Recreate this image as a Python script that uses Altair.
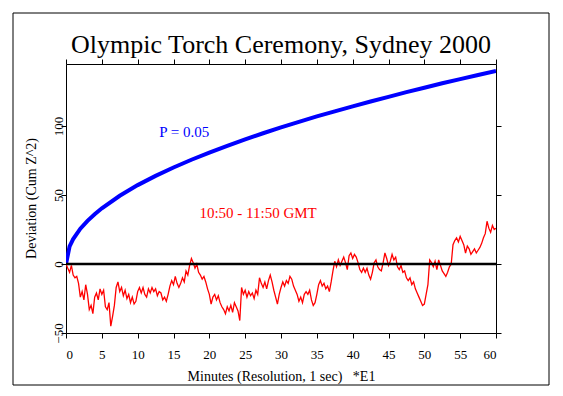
import altair as alt
import pandas as pd

# ---- data ----
title_text = "Olympic Torch Ceremony, Sydney 2000"
x_title = "Minutes (Resolution, 1 sec)\u00a0\u00a0\u00a0*E1"
y_title = "Deviation (Cum Z^2)"
x_ticks = [0, 5, 10, 15, 20, 25, 30, 35, 40, 45, 50, 55, 60]
y_ticks = [-50, 0, 50, 100]

# P = 0.05 envelope (blue)
env_minutes = [0, 0.5, 1, 2, 3, 4, 5, 7.5, 10, 12.5, 15, 17.5, 20, 22.5, 25, 27.5,
               30, 32.5, 35, 37.5, 40, 42.5, 45, 47.5, 50, 52.5, 55, 57.5, 60]
env_values = [0, 12.8, 18.1, 25.6, 31.3, 36.1, 40.4, 49.5, 57.2, 63.9, 70.0, 75.6,
              80.8, 85.7, 90.4, 94.8, 99.0, 103.0, 107.0, 110.7, 114.3, 117.8,
              121.2, 124.6, 127.8, 131.0, 134.0, 137.0, 140.0]

# cumulative deviation (red), one value every quarter minute
dev_step = 0.25
dev_values = [
    0, -3, -6, -1,       -8, -10, -9, -14,     -24, -20, -26, -15,   -22, -33, -30, -36,
    -24, -21, -26, -18,  -22, -19, -31, -33,   -28, -45, -38, -30,   -17, -13, -20, -17,
    -23, -19, -25, -22,  -28, -24, -29, -27,   -20, -17, -21, -17,   -22, -24, -18, -21,
    -17, -20, -18, -23,  -20, -21, -26, -24,   -27, -22, -16, -12,   -15, -9, -14, -17,
    -14, -10, -13, -5,   -8, -1, 4, 1,        -3, 0, -6, -8,        -11, -9, -13, -18,
    -22, -29, -24, -22,  -26, -23, -28, -31,   -33, -36, -31, -34,   -30, -35, -28, -31,
    -34, -41, -17, -22,  -19, -24, -20, -23,   -21, -25, -19, -22,   -10, -14, -17, -13,
    -18, -12, -8, -13,   -19, -24, -29, -22,   -17, -13, -16, -12,   -14, -9, -11, -16,
    -19, -22, -27, -24,  -28, -22, -20, -22,   -19, -26, -30, -28,   -22, -15, -12, -16,
    -14, -18, -16, -20,  -13, -5, 2, -2,       3, -1, 2, 5,          1, -4, 6, 8,
    4, 7, 5, 1,          -4, -6, -3, -6,       -3, -8, -11, -6,      1, 3, -2, -4,
    -5, 1, 8, 4,         -1, 2, 7, 3,          5, -2, -4, -1,        -6, -5, -10, -12,
    -10, -15, -13, -18,  -21, -24, -27, -30,   -29, -22, -15, 3,     1, -2, 2, -4,
    3, -1, -5, -7,       -9, -6, -2, 0,        14, 17, 19, 16,       20, 17, 14, 8,
    13, 11, 7, 9,        11, 8, 10, 12,        15, 19, 22, 31,       26, 23, 28, 25,
    26,
]
dev_minutes = [i * dev_step for i in range(len(dev_values))]

ann_text = ["P = 0.05", "10:50 - 11:50 GMT"]
ann_minute = [16.5, 26.8]
ann_value = [96, 37]
ann_color = ["#0000ff", "#ff0000"]

# ---- build tables ----
env_df = pd.DataFrame({"minute": env_minutes, "value": env_values})
dev_df = pd.DataFrame({"minute": dev_minutes, "value": dev_values})
ann_df = pd.DataFrame({"minute": ann_minute, "value": ann_value,
                       "label": ann_text, "color": ann_color})
zero_df = pd.DataFrame({"value": [0]})
frame_df = pd.DataFrame({"k": [0]})

FONT = "Liberation Serif"
xscale = alt.Scale(domain=[0, 60], nice=False, zero=False)
yscale = alt.Scale(domain=[-50, 145], nice=False, zero=False)

common_axis = dict(grid=False, domainColor="black", tickColor="black",
                   domainWidth=1, tickWidth=1, tickSize=5)

x_bottom = alt.Axis(values=x_ticks, orient="bottom", labelFont=FONT, labelFontSize=13,
                    labelColor="black", labelPadding=10, labelAngle=0,
                    title=x_title, titleFont=FONT, titleFontSize=14,
                    titleFontWeight="normal", titleColor="black",
                    titleBaseline="alphabetic", titleY=47, **common_axis)
y_left = alt.Axis(values=y_ticks, orient="left", labelFont=FONT, labelFontSize=13,
                  labelColor="black", labelAngle=270, labelAlign="center",
                  labelBaseline="middle", labelPadding=3,
                  title=y_title, titleFont=FONT, titleFontSize=14,
                  titleFontWeight="normal", titleColor="black", titleAngle=270,
                  titleAlign="center", titleBaseline="middle", titleX=-35, titleY=134,
                  **common_axis)
x_top = alt.Axis(values=x_ticks, orient="top", labels=False, title=None, **common_axis)
y_right = alt.Axis(values=y_ticks, orient="right", labels=False, title=None, **common_axis)

dev_line = alt.Chart(dev_df).mark_line(color="#ff0000", strokeWidth=1.3, clip=True).encode(
    x=alt.X("minute:Q", scale=xscale, axis=x_bottom),
    y=alt.Y("value:Q", scale=yscale, axis=y_left),
)

env_line = alt.Chart(env_df).mark_line(color="#0000ff", strokeWidth=4, clip=True).encode(
    x=alt.X("minute:Q", scale=xscale, axis=x_top),
    y=alt.Y("value:Q", scale=yscale, axis=y_right),
)

zero_rule = alt.Chart(zero_df).mark_rule(color="black", strokeWidth=2.5).encode(
    y=alt.Y("value:Q", scale=yscale, axis=None),
)

ann = alt.Chart(ann_df).mark_text(font=FONT, fontSize=15, align="center",
                                  baseline="middle").encode(
    x=alt.X("minute:Q", scale=xscale, axis=None),
    y=alt.Y("value:Q", scale=yscale, axis=None),
    text="label:N",
    color=alt.Color("color:N", scale=None),
)

frame = alt.Chart(frame_df).mark_rect(filled=False, stroke="black", strokeWidth=1,
                                      clip=False).encode(
    x=alt.value(-53), x2=alt.value(483), y=alt.value(-51), y2=alt.value(321)
)

chart = alt.layer(dev_line, env_line, zero_rule, ann, frame).resolve_axis(
    x="independent", y="independent"
).properties(
    width=430,
    height=269,
    title=alt.TitleParams(text=title_text, font=FONT, fontSize=26, fontWeight="normal",
                          color="black", anchor="middle", baseline="alphabetic",
                          offset=7, dy=73),
    autosize=alt.AutoSizeParams(type="none"),
    padding={"left": 58, "top": 56, "right": 55, "bottom": 56},
).configure_view(stroke=None).configure(background="white")

chart.save("out.html", embed_options={"renderer": "svg", "actions": False})
